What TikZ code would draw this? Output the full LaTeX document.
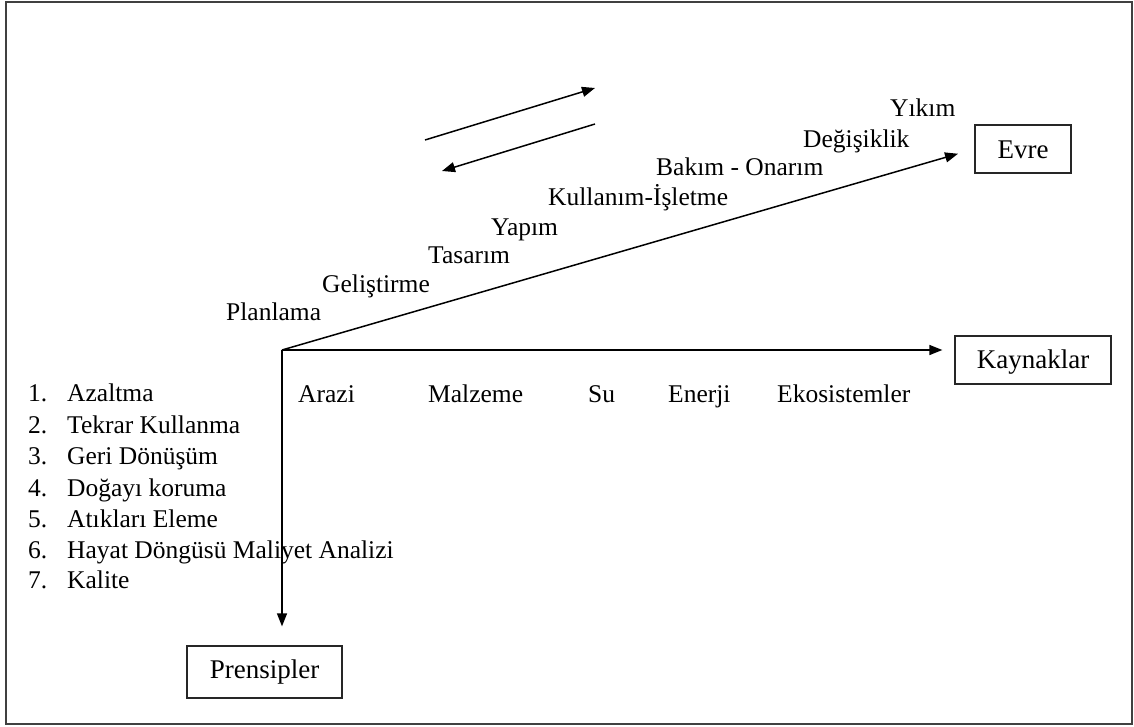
\documentclass[tikz,border=0pt]{standalone}
\usepackage{fontspec}
\setmainfont{Liberation Serif}
\usetikzlibrary{arrows.meta}
\begin{document}
\begin{tikzpicture}[x=1pt,y=-1pt,
  lbl/.style={anchor=west,inner sep=0pt,text height=0.68em,text depth=0.22em,yshift=-7pt,font=\fontsize{25.5}{30}\selectfont},
  boxn/.style={draw=black!85,line width=1.3pt,inner sep=0pt,text height=1.45em,text depth=0.12em,font=\fontsize{27}{32}\selectfont},
  arr/.style={line width=1.5pt,-{Triangle[length=13pt,width=10pt]}},
  frame/.style={line width=2pt,draw=black!75}
]
\useasboundingbox (0,0) rectangle (1134,727);
\draw[frame] (6,2) rectangle (1132,724);

% boxes
\node[boxn,minimum width=96pt,minimum height=48pt] (evre) at (1023,149) {\raisebox{-3pt}{Evre}};
\node[boxn,minimum width=156pt,minimum height=48pt] (kay) at (1033,360) {\raisebox{-2pt}{Kaynaklar}};
\node[boxn,minimum width=155pt,minimum height=52pt] (pren) at (264.5,672) {Prensipler};

% axes
\coordinate (O) at (282,350);
\draw[arr,shorten >=17pt] (O) -- (evre.west);
\draw[arr,shorten >=12pt] (O) -- (kay.west |- O);
\draw[arr,shorten >=19pt] (O) -- (O |- pren.north);

% top double arrows
\coordinate (a1s) at (425,140);
\coordinate (a1e) at (595,88);
\coordinate (a2s) at (595,124);
\coordinate (a2e) at (442,171);
\draw[arr] (a1s) -- (a1e);
\draw[arr] (a2s) -- (a2e);

% phases
\node[lbl] (p1) at (226,311) {Planlama};
\node[lbl] (p2) at (322,283) {Geliştirme};
\node[lbl] (p3) at (428,254) {Tasarım};
\node[lbl] (p4) at (491,226) {Yapım};
\node[lbl] (p5) at (548,196) {Kullanım-İşletme};
\node[lbl] (p6) at (656,166) {Bakım - Onarım};
\node[lbl] (p7) at (803,138) {Değişiklik};
\node[lbl] (p8) at (890,107) {Yıkım};

% resources
\node[lbl] (r1) at (298,393) {Arazi};
\node[lbl] (r2) at (428,393) {Malzeme};
\node[lbl] (r3) at (588,393) {Su};
\node[lbl] (r4) at (668,393) {Enerji};
\node[lbl] (r5) at (777,393) {Ekosistemler};

% principles
\foreach \n/\t/\y in {1/Azaltma/392,2/Tekrar Kullanma/424,3/Geri Dönüşüm/455,4/Doğayı koruma/487,5/Atıkları Eleme/518,6/Hayat Döngüsü Maliyet Analizi/549,7/Kalite/579}{
  \node[lbl] (n\n) at (28,\y) {\n.};
  \node[lbl] (l\n) at (67,\y) {\t};
}
\end{tikzpicture}
\end{document}
